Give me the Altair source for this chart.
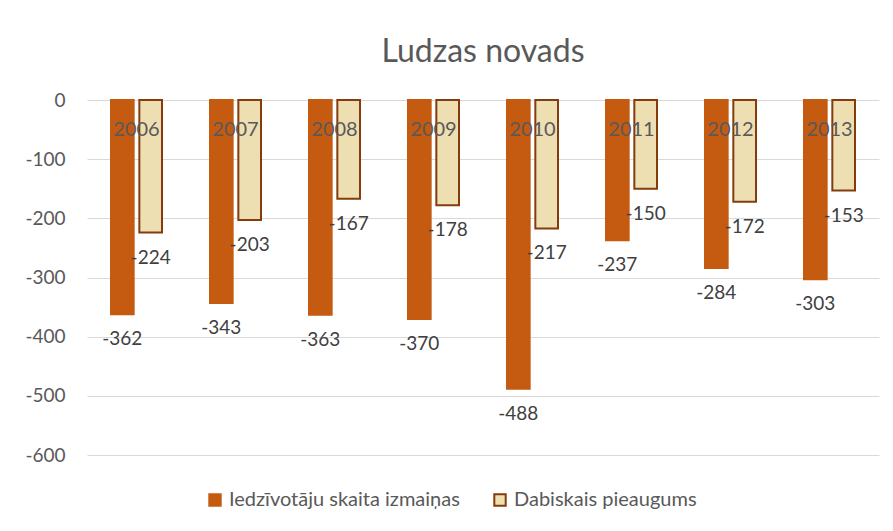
import altair as alt
import pandas as pd

years = ["2006", "2007", "2008", "2009", "2010", "2011", "2012", "2013"]
pop_change = [-362, -343, -363, -370, -488, -237, -284, -303]
natural_growth = [-224, -203, -167, -178, -217, -150, -172, -153]
series_names = ["Iedzīvotāju skaita izmaiņas", "Dabiskais pieaugums"]
y_ticks = [0, -100, -200, -300, -400, -500, -600]

rows = []
for yr, a, b in zip(years, pop_change, natural_growth):
    rows.append({"year": yr, "series": series_names[0], "value": a, "label": str(a)})
    rows.append({"year": yr, "series": series_names[1], "value": b, "label": str(b)})
df = pd.DataFrame(rows)

FONT = "Lato"

x = alt.X(
    "year:N", sort=years,
    scale=alt.Scale(paddingInner=0.485, paddingOuter=0.2425),
    axis=alt.Axis(orient="top", title=None, domain=False, ticks=False, grid=False,
                  labelAngle=0, labelPadding=-39, labelFontSize=20,
                  labelColor="#595959", labelFont=FONT, zindex=1),
)
xo = alt.XOffset("series:N", sort=series_names, scale=alt.Scale(paddingInner=0.2))
y = alt.Y(
    "value:Q",
    scale=alt.Scale(domain=[-600, 0], nice=False),
    axis=alt.Axis(values=y_ticks, title=None, domain=False, ticks=False,
                  labelPadding=22, labelFontSize=19, labelColor="#595959",
                  labelFont=FONT, gridColor="#D9D9D9", gridWidth=1,
                  labelExpr="'' + datum.value"),
)

legend_cfg = dict(orient="none", legendX=118, legendY=390, direction="horizontal",
                  title=None, symbolType="square", symbolSize=130,
                  symbolStrokeWidth=2, labelFontSize=20, labelColor="#595959",
                  labelFont=FONT, labelLimit=0, columnPadding=30)

bars = alt.Chart(df).mark_bar(strokeWidth=2).encode(
    x=x, xOffset=xo, y=y,
    color=alt.Color("series:N", sort=series_names,
                    scale=alt.Scale(domain=series_names, range=["#C55A11", "#EEDFB3"]),
                    legend=alt.Legend(**legend_cfg)),
    stroke=alt.Stroke("series:N", sort=series_names,
                      scale=alt.Scale(domain=series_names, range=["#C55A11", "#843C0C"]),
                      legend=alt.Legend(**legend_cfg)),
)

labels = alt.Chart(df).mark_text(dy=25, fontSize=19, color="#404040", font=FONT).encode(
    x=x, xOffset=xo, y=alt.Y("value:Q"), text=alt.Text("label:N"),
)

chart = alt.layer(bars, labels).properties(
    width=792, height=355,
    title=alt.Title("Ludzas novads", fontSize=32, color="#595959", font=FONT,
                    fontWeight="normal", offset=22),
    padding={"left": 16, "top": 28, "right": 5, "bottom": 5},
).configure_view(stroke=None)

chart.save("out.html", embed_options={"renderer": "svg", "actions": False})
